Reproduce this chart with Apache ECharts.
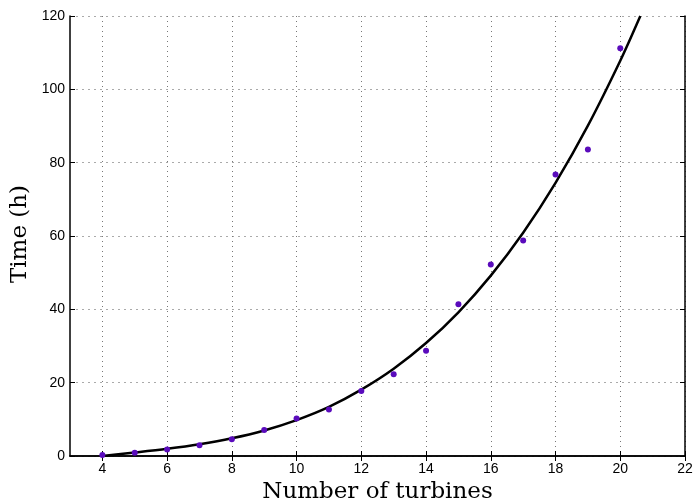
<!DOCTYPE html>
<html><head><meta charset="utf-8">
<script src="https://cdn.jsdelivr.net/npm/echarts@6/dist/echarts.min.js"></script>
<style>html,body{margin:0;padding:0;background:#fff}#c{width:694px;height:502px}</style>
</head><body><div id="c"></div>
<script>
// measured points
const turbines = [4,5,6,7,8,9,10,11,12,13,14,15,16,17,18,19,20];
const hours = [0.3,0.9,1.8,2.9,4.6,7.1,10.2,12.7,17.7,22.3,28.7,41.4,52.2,58.8,76.8,83.6,111.2];
// fitted curve
const fitX = [4,5,6,7,8,9,10,11,12,13,14,15,16,17,18,19,20,20.62];
const fitY = [0,0.94,1.96,3.21,4.83,6.97,9.8,13.4,18.1,23.8,30.8,39.2,49.2,60.9,74.5,90.1,107.8,120];
const xTicks = [4,6,8,10,12,14,16,18,20,22];

const chart = echarts.init(document.getElementById('c'), null, {renderer:'canvas'});
const tickFont = {fontFamily:'Liberation Sans', fontSize:14, color:'#000'};
const axisLine = {show:true, lineStyle:{color:'#000', width:1.5}};
const nameFont = {fontFamily:'DejaVu Serif', fontSize:23, color:'#000'};
chart.setOption({
  animation:false,
  grid:{left:70, right:9, top:16, bottom:46, containLabel:false, outerBoundsMode:'none'},
  xAxis:[{
    type:'value', min:3, max:22, position:'bottom',
    name:'Number of turbines', nameLocation:'middle', nameGap:25, nameMoveOverlap:false,
    nameTextStyle:nameFont,
    axisLine:axisLine,
    axisTick:{show:true, inside:true, length:5, customValues:xTicks, lineStyle:{color:'#000'}},
    axisLabel:Object.assign({margin:6, customValues:xTicks}, tickFont),
    splitLine:{show:true, lineStyle:{color:'#777', type:[1,4], width:1}}
  },{
    type:'value', min:3, max:22, position:'top',
    axisLine:axisLine,
    axisTick:{show:true, inside:true, length:5, customValues:xTicks, lineStyle:{color:'#000'}},
    axisLabel:{show:false}, splitLine:{show:false}
  }],
  yAxis:[{
    type:'value', min:0, max:120, interval:20, position:'left',
    name:'Time (h)', nameLocation:'middle', nameGap:38, nameMoveOverlap:false,
    nameTextStyle:Object.assign({padding:[0,0,0,4]}, nameFont),
    axisLine:axisLine,
    axisTick:{show:true, inside:true, length:5, lineStyle:{color:'#000'}},
    axisLabel:Object.assign({margin:5}, tickFont),
    splitLine:{show:true, lineStyle:{color:'#aaa', type:[2,4], width:1}}
  },{
    type:'value', min:0, max:120, interval:20, position:'right',
    axisLine:axisLine,
    axisTick:{show:true, inside:true, length:5, lineStyle:{color:'#000'}},
    axisLabel:{show:false}, splitLine:{show:false}
  }],
  series:[{
    type:'line', xAxisIndex:0, yAxisIndex:0,
    data: fitX.map((x,i)=>[x, fitY[i]]),
    smooth:0.3, showSymbol:false, clip:true,
    lineStyle:{color:'#000', width:2.5}, z:3
  },{
    type:'scatter', xAxisIndex:0, yAxisIndex:0,
    data: turbines.map((x,i)=>[x, hours[i]]),
    symbol:'circle', symbolSize:6,
    itemStyle:{color:'#5a0bbc', opacity:1}, z:4
  }]
});
</script></body></html>
